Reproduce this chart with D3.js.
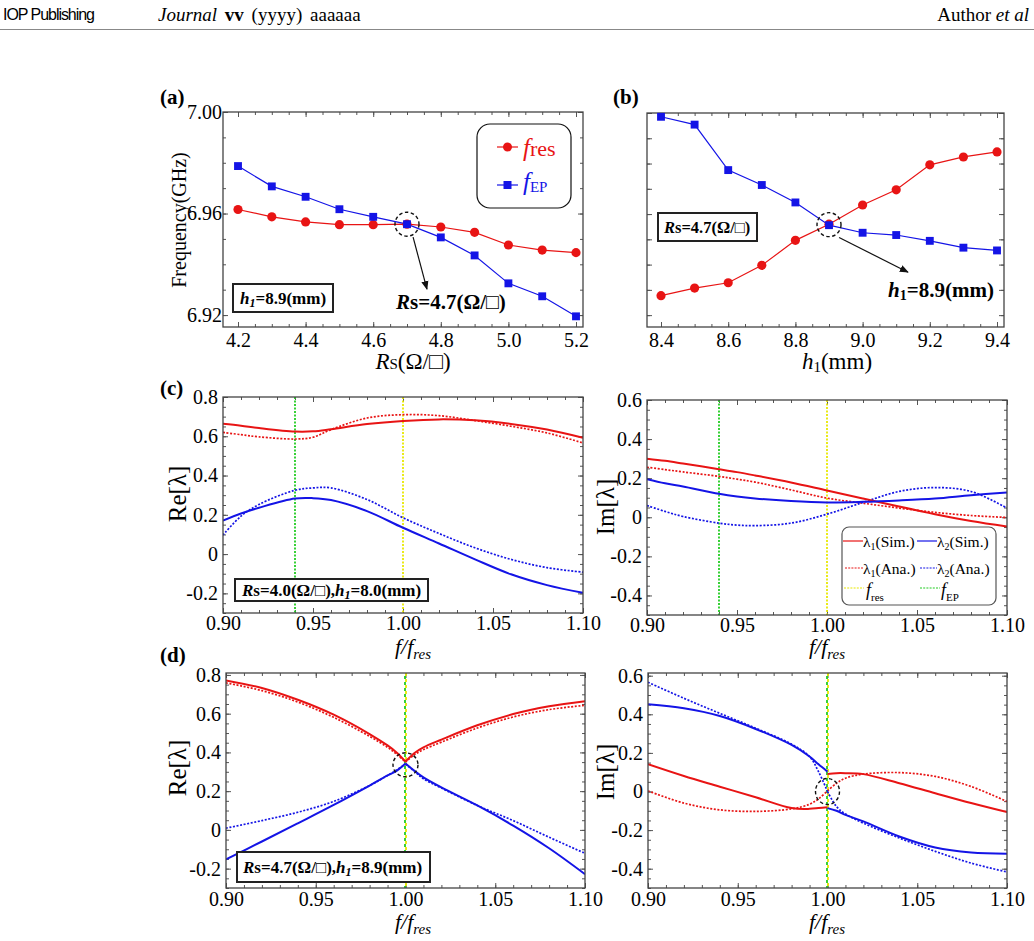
<!DOCTYPE html>
<html>
<head>
<meta charset="utf-8">
<script src="https://cdn.jsdelivr.net/npm/d3@7"></script>
<style>
  body { margin: 0; background: #fff; }
  text { font-family: "Liberation Serif", "Times New Roman", serif; }
</style>
</head>
<body>
<svg id="fig" width="1034" height="941"></svg>
<script>
// ---- (a) frequency vs Rs, h1 = 8.9 mm
const rsValues = [4.2, 4.3, 4.4, 4.5, 4.6, 4.7, 4.8, 4.9, 5.0, 5.1, 5.2];
const fresA = [6.9616, 6.9587, 6.9567, 6.9556, 6.9556, 6.9558, 6.9547, 6.9526, 6.9476, 6.9456, 6.9446];
const fepA  = [6.9787, 6.9707, 6.9666, 6.9617, 6.9587, 6.9558, 6.9506, 6.9435, 6.9325, 6.9274, 6.9195];

// ---- (b) frequency vs h1, Rs = 4.7
const h1Values = [8.4, 8.5, 8.6, 8.7, 8.8, 8.9, 9.0, 9.1, 9.2, 9.3, 9.4];
const fresB = [6.9277, 6.9307, 6.9328, 6.9397, 6.9496, 6.9560, 6.9636, 6.9696, 6.9795, 6.9826, 6.9846];
const fepB  = [6.9985, 6.9954, 6.9774, 6.9715, 6.9646, 6.9556, 6.9526, 6.9517, 6.9494, 6.9467, 6.9456];

// ---- (c) Rs = 4.0, h1 = 8.0 : eigenvalues vs f/fres
const cX = [0.90, 0.91, 0.92, 0.94, 0.95, 0.96, 0.98, 1.00, 1.02, 1.04, 1.06, 1.08, 1.10];
const cReL1Sim = [0.664, 0.654, 0.642, 0.624, 0.625, 0.636, 0.662, 0.678, 0.686, 0.681, 0.663, 0.634, 0.592];
const cReL1Ana = [0.620, 0.608, 0.597, 0.586, 0.595, 0.634, 0.693, 0.710, 0.705, 0.680, 0.651, 0.617, 0.566];
const cReL2Sim = [0.171, 0.207, 0.236, 0.283, 0.285, 0.275, 0.219, 0.134, 0.054, -0.027, -0.103, -0.158, -0.197];
const cReL2Ana = [0.097, 0.193, 0.253, 0.325, 0.337, 0.337, 0.278, 0.185, 0.105, 0.032, -0.027, -0.069, -0.092];
const cImL1Sim = [0.300, 0.289, 0.275, 0.246, 0.231, 0.214, 0.178, 0.137, 0.096, 0.055, 0.016, -0.019, -0.047];
const cImL1Ana = [0.256, 0.244, 0.232, 0.209, 0.195, 0.180, 0.140, 0.098, 0.072, 0.047, 0.025, 0.009, -0.001];
const cImL2Sim = [0.195, 0.174, 0.157, 0.120, 0.106, 0.096, 0.083, 0.076, 0.079, 0.086, 0.096, 0.113, 0.127];
const cImL2Ana = [0.060, 0.030, 0.004, -0.030, -0.040, -0.043, -0.030, 0.016, 0.076, 0.132, 0.152, 0.132, 0.047];
const cFres = 1.00, cFep = 0.94;

// ---- (d) Rs = 4.7, h1 = 8.9 : first 8 points = left branch, last 8 = right branch
const dX = [0.90, 0.92, 0.94, 0.96, 0.98, 0.99, 0.995, 1.00,
            1.00, 1.005, 1.01, 1.02, 1.04, 1.06, 1.08, 1.10];
const dReL1Sim = [0.772, 0.733, 0.672, 0.595, 0.495, 0.436, 0.400, 0.353,
                  0.353, 0.397, 0.426, 0.466, 0.540, 0.598, 0.638, 0.664];
const dReL1Ana = [0.759, 0.719, 0.660, 0.581, 0.483, 0.426, 0.391, 0.350,
                  0.350, 0.388, 0.414, 0.453, 0.526, 0.583, 0.621, 0.643];
const dReL2Sim = [-0.152, -0.060, 0.034, 0.129, 0.229, 0.281, 0.305, 0.343,
                  0.343, 0.305, 0.271, 0.219, 0.126, 0.022, -0.095, -0.229];
const dReL2Ana = [0.009, 0.048, 0.091, 0.147, 0.229, 0.281, 0.309, 0.340,
                  0.340, 0.302, 0.264, 0.216, 0.126, 0.048, -0.038, -0.121];
const dImL1Sim = [0.141, 0.080, 0.025, -0.030, -0.086, -0.090, -0.086, -0.081,
                  0.091, 0.095, 0.095, 0.090, 0.043, -0.009, -0.060, -0.107];
const dImL1Ana = [0.003, -0.060, -0.095, -0.103, -0.090, -0.066, -0.038, 0.003,
                  0.003, 0.043, 0.069, 0.090, 0.098, 0.078, 0.026, -0.052];
const dImL2Sim = [0.452, 0.431, 0.391, 0.324, 0.241, 0.181, 0.141, 0.103,
                  -0.086, -0.100, -0.121, -0.155, -0.233, -0.290, -0.316, -0.322];
const dImL2Ana = [0.566, 0.483, 0.405, 0.328, 0.245, 0.181, 0.103, 0.000,
                  0.000, -0.078, -0.117, -0.164, -0.241, -0.310, -0.371, -0.417];
const dFres = 1.00, dFep = 1.00;

// tick labels
const aTicksX = [4.2, 4.4, 4.6, 4.8, 5.0, 5.2];
const aTicksY = [6.92, 6.96, 7.00];
const bTicksX = [8.4, 8.6, 8.8, 9.0, 9.2, 9.4];
const fTicksX = [0.90, 0.95, 1.00, 1.05, 1.10];
const reTicksY = [-0.2, 0, 0.2, 0.4, 0.6, 0.8];
const imTicksY = [-0.4, -0.2, 0, 0.2, 0.4, 0.6];

const RED = "#e81414", BLUE = "#1414e6", YEL = "#e8e800", GRN = "#22cc22";
const svg = d3.select("#fig");

const steps = (a, b, s) => d3.range(Math.round((b - a) / s) + 1).map(i => +(a + i * s).toFixed(4));

function rich(parent, x, y, parts, opt = {}) {
  const t = parent.append("text").attr("x", x).attr("y", y)
    .attr("font-size", opt.size || 20)
    .attr("text-anchor", opt.anchor || "start")
    .attr("fill", opt.fill || "#000")
    .attr("font-weight", opt.weight || "normal");
  if (opt.rotate) t.attr("transform", `rotate(-90,${x},${y})`);
  parts.forEach(p => {
    const s = t.append("tspan").text(p.t);
    if (p.i) s.attr("font-style", "italic");
    if (p.size) s.attr("font-size", p.size);
    if (p.dy) s.attr("dy", p.dy);
    if (p.w) s.attr("font-weight", p.w);
  });
  return t;
}

let clipId = 0;
function makePanel(o) {
  const g = svg.append("g").attr("transform", `translate(${o.left},${o.top})`);
  const x = d3.scaleLinear().domain(o.xDomain).range([0, o.width]);
  const y = d3.scaleLinear().domain(o.yDomain).range([o.height, 0]);
  const inX = v => v >= o.xDomain[0] - 1e-9 && v <= o.xDomain[1] + 1e-9;
  const inY = v => v >= o.yDomain[0] - 1e-9 && v <= o.yDomain[1] + 1e-9;
  const xMinor = o.xMinor.filter(inX), yMinor = o.yMinor.filter(inY);

  const axes = [
    [d3.axisBottom(x).tickValues(xMinor).tickSize(-3).tickFormat(""), `translate(0,${o.height})`],
    [d3.axisTop(x).tickValues(xMinor).tickSize(-3).tickFormat(""), null],
    [d3.axisLeft(y).tickValues(yMinor).tickSize(-3).tickFormat(""), null],
    [d3.axisRight(y).tickValues(yMinor).tickSize(-3).tickFormat(""), `translate(${o.width},0)`],
    [d3.axisTop(x).tickValues(o.xTicks).tickSize(-5).tickFormat(""), null],
    [d3.axisRight(y).tickValues(o.yTicks).tickSize(-5).tickFormat(""), `translate(${o.width},0)`],
    [d3.axisBottom(x).tickValues(o.xTicks).tickSize(-5).tickPadding(o.xPad).tickFormat(o.xFmt), `translate(0,${o.height})`],
    [d3.axisLeft(y).tickValues(o.yTicks).tickSize(-5).tickPadding(o.yPad).tickFormat(o.yFmt || ""), null]
  ];
  axes.forEach(([ax, tr]) => {
    const a = g.append("g").call(ax);
    if (tr) a.attr("transform", tr);
    a.select(".domain").remove();
    a.selectAll(".tick line").attr("stroke", "#555").attr("stroke-width", 1);
    a.selectAll(".tick text").attr("font-size", 20).attr("fill", "#000");
  });
  const id = "clip" + (clipId++);
  g.append("clipPath").attr("id", id).append("rect").attr("width", o.width).attr("height", o.height);
  const plot = g.append("g").attr("clip-path", `url(#${id})`);
  g.append("rect").attr("width", o.width).attr("height", o.height)
    .attr("fill", "none").attr("stroke", "#444").attr("stroke-width", 1.3);
  return { g, plot, x, y };
}

function curve(p, xs, ys, color, dotted, from, to) {
  const pts = xs.map((v, i) => [v, ys[i]]).slice(from || 0, to || xs.length);
  const line = d3.line().x(d => p.x(d[0])).y(d => p.y(d[1])).curve(d3.curveCatmullRom.alpha(0.5));
  p.plot.append("path").attr("d", line(pts)).attr("fill", "none")
    .attr("stroke", color).attr("stroke-width", dotted ? 1.7 : 2)
    .attr("stroke-dasharray", dotted ? "2,1.6" : null);
}

function vline(p, xv, color, dash, offset, dx) {
  p.plot.append("line")
    .attr("x1", p.x(xv) + (dx || 0)).attr("x2", p.x(xv) + (dx || 0))
    .attr("y1", 0).attr("y2", p.y.range()[0])
    .attr("stroke", color).attr("stroke-width", 1.8)
    .attr("stroke-dasharray", dash).attr("stroke-dashoffset", offset || 0);
}

function dashCircle(p, xv, yv, rx, ry) {
  p.g.append("ellipse").attr("cx", p.x(xv)).attr("cy", p.y(yv)).attr("rx", rx).attr("ry", ry)
    .attr("fill", "none").attr("stroke", "#111").attr("stroke-width", 1.4).attr("stroke-dasharray", "3.5,2.5");
}

function arrow(p, x1, y1, x2, y2) {
  p.g.append("line").attr("x1", p.x(x1)).attr("y1", p.y(y1)).attr("x2", p.x(x2)).attr("y2", p.y(y2))
    .attr("stroke", "#111").attr("stroke-width", 1.2).attr("marker-end", "url(#arr)");
}

function textBox(x, y, w, h) {
  svg.append("rect").attr("x", x).attr("y", y).attr("width", w).attr("height", h)
    .attr("fill", "#fff").attr("stroke", "#222").attr("stroke-width", 2);
}

svg.append("defs").append("marker").attr("id", "arr").attr("viewBox", "0 0 10 10")
  .attr("refX", 9).attr("refY", 5).attr("markerWidth", 9).attr("markerHeight", 9)
  .attr("markerUnits", "userSpaceOnUse").attr("orient", "auto")
  .append("path").attr("d", "M0,1 L10,5 L0,9 Z").attr("fill", "#111");

// ---------- header
svg.append("text").attr("x", 3).attr("y", 20).attr("font-size", 16)
  .style("font-family", "'Liberation Sans', sans-serif").attr("textLength", 92).text("IOP Publishing");
rich(svg, 158, 21, [{ t: "Journal ", i: 1 }, { t: "vv", w: "bold" }, { t: " (yyyy) aaaaaa" }], { size: 19 })
  .attr("word-spacing", 3);
rich(svg, 1029, 21, [{ t: "Author " }, { t: "et al", i: 1 }], { size: 19, anchor: "end" });
svg.append("line").attr("x1", 0).attr("x2", 1034).attr("y1", 29.5).attr("y2", 29.5)
  .attr("stroke", "#888").attr("stroke-width", 1);

// ---------- panel (a)
const pA = makePanel({
  left: 223, top: 112, width: 360, height: 215,
  xDomain: [4.1556, 5.2207], yDomain: [6.9153, 7.0],
  xTicks: aTicksX, yTicks: aTicksY, xMinor: steps(4.15, 5.25, 0.05), yMinor: steps(6.91, 7.0, 0.01),
  xFmt: d => d.toFixed(1), yFmt: d => d.toFixed(2), xPad: 6, yPad: 1
});
function markerSeries(p, xs, ys, color, shape) {
  const pts = xs.map((v, i) => [v, ys[i]]);
  p.plot.append("path").attr("d", d3.line().x(d => p.x(d[0])).y(d => p.y(d[1]))(pts))
    .attr("fill", "none").attr("stroke", color).attr("stroke-width", 1.2);
  const sym = d3.symbol().type(shape === "circle" ? d3.symbolCircle : d3.symbolSquare).size(shape === "circle" ? 66 : 62);
  p.g.selectAll(null).data(pts).enter().append("path").attr("d", sym)
    .attr("transform", d => `translate(${p.x(d[0])},${p.y(d[1])})`).attr("fill", color);
}
markerSeries(pA, rsValues, fresA, RED, "circle");
markerSeries(pA, rsValues, fepA, BLUE, "square");
dashCircle(pA, 4.7, 6.9558, 12, 12);
arrow(pA, 4.718, 6.9507, 4.759, 6.9302);
rich(svg, 396, 309, [{ t: "R", i: 1 }, { t: "s=4.7(Ω/□)" }], { size: 21, weight: "bold" });
textBox(233, 284, 100, 28);
rich(svg, 240, 304, [{ t: "h", i: 1 }, { t: "1", i: 1, size: 12, dy: 3 }, { t: "=8.9(mm)", dy: -3 }], { size: 17, weight: "bold" });
// legend (a)
svg.append("rect").attr("x", 477).attr("y", 124).attr("width", 94).attr("height", 84).attr("rx", 13)
  .attr("fill", "#fff").attr("stroke", "#111").attr("stroke-width", 1.2);
svg.append("line").attr("x1", 497).attr("x2", 518).attr("y1", 147).attr("y2", 147).attr("stroke", RED).attr("stroke-width", 1.2);
svg.append("circle").attr("cx", 507.5).attr("cy", 147).attr("r", 4.5).attr("fill", RED);
rich(svg, 523, 156, [{ t: "f", i: 1, size: 25 }, { t: "res" }], { size: 22, fill: RED });
svg.append("line").attr("x1", 497).attr("x2", 518).attr("y1", 185).attr("y2", 185).attr("stroke", BLUE).attr("stroke-width", 1.2);
svg.append("rect").attr("x", 503.5).attr("y", 181).attr("width", 8).attr("height", 8).attr("fill", BLUE);
rich(svg, 523, 190, [{ t: "f", i: 1, size: 25 }, { t: "EP", size: 15, dy: 2 }], { size: 22, fill: BLUE });
// labels (a)
svg.append("text").attr("x", 160).attr("y", 104).attr("font-size", 21).attr("font-weight", "bold").text("(a)");
rich(svg, 186, 220, [{ t: "Frequency(GHz)" }], { size: 20, anchor: "middle", rotate: true });
rich(svg, 413, 369, [{ t: "R", i: 1, size: 23 }, { t: "S", size: 15 }, { t: "(Ω/□)" }], { size: 23, anchor: "middle" });

// ---------- panel (b)
const pB = makePanel({
  left: 647, top: 113, width: 357, height: 214,
  xDomain: [8.3583, 9.4208], yDomain: [6.9153, 7.0],
  xTicks: bTicksX, yTicks: steps(6.92, 7.0, 0.01), xMinor: steps(8.35, 9.45, 0.05), yMinor: steps(6.92, 7.0, 0.01),
  xFmt: d => d.toFixed(1), yFmt: "", xPad: 6, yPad: 1
});
markerSeries(pB, h1Values, fresB, RED, "circle");
markerSeries(pB, h1Values, fepB, BLUE, "square");
dashCircle(pB, 8.9, 6.9558, 12, 12);
arrow(pB, 8.93, 6.9507, 9.135, 6.937);
rich(svg, 888, 297, [{ t: "h", i: 1 }, { t: "1", size: 14, dy: 3 }, { t: "=8.9(mm)", dy: -3 }], { size: 21, weight: "bold" });
textBox(658, 213, 99, 28);
rich(svg, 664, 233, [{ t: "R", i: 1 }, { t: "s=4.7(Ω/□)" }], { size: 16.5, weight: "bold" });
svg.append("text").attr("x", 613).attr("y", 104).attr("font-size", 21).attr("font-weight", "bold").text("(b)");
rich(svg, 837, 369, [{ t: "h", i: 1 }, { t: "1", size: 15, dy: 3 }, { t: "(mm)", dy: -3 }], { size: 23, anchor: "middle" });

// ---------- panels (c), (d)
const fmt1 = d => Math.abs(d) < 1e-9 ? "0" : d.toFixed(1);
const fmt2 = d => d.toFixed(2);
function lambdaPanel(left, top, width, height, yDomain, yTicks, xPad) {
  return makePanel({
    left, top, width, height, xDomain: [0.9, 1.1], yDomain,
    xTicks: fTicksX, yTicks, xMinor: steps(0.9, 1.1, 0.01), yMinor: steps(-0.5, 0.85, 0.05),
    xFmt: fmt2, yFmt: fmt1, xPad, yPad: 5
  });
}
function xLabel(cx, base) {
  rich(svg, cx, base, [{ t: "f/f", i: 1 }, { t: "res", i: 1, size: 15, dy: 5 }], { size: 22, anchor: "middle" });
}

const pCR = lambdaPanel(223, 397, 360, 216, [-0.3, 0.8], reTicksY, 3);
vline(pCR, cFep, GRN, "2,1.5");
vline(pCR, cFres, YEL, "2,1.5");
curve(pCR, cX, cReL1Ana, RED, true);
curve(pCR, cX, cReL2Ana, BLUE, true);
curve(pCR, cX, cReL1Sim, RED, false);
curve(pCR, cX, cReL2Sim, BLUE, false);
textBox(235, 579, 193, 22);
rich(svg, 242, 596, [{ t: "R", i: 1 }, { t: "s=4.0(Ω/□)," }, { t: "h", i: 1 }, { t: "1", i: 1, size: 12, dy: 3 }, { t: "=8.0(mm)", dy: -3 }], { size: 17, weight: "bold" });
svg.append("text").attr("x", 160).attr("y", 395).attr("font-size", 21).attr("font-weight", "bold").text("(c)");
rich(svg, 186, 494, [{ t: "Re[λ]" }], { size: 25, anchor: "middle", rotate: true });
xLabel(413, 654);

const pCI = lambdaPanel(647, 400, 360, 215, [-0.5, 0.6], imTicksY, 3);
vline(pCI, cFep, GRN, "2,1.5");
vline(pCI, cFres, YEL, "2,1.5");
curve(pCI, cX, cImL1Ana, RED, true);
curve(pCI, cX, cImL2Ana, BLUE, true);
curve(pCI, cX, cImL1Sim, RED, false);
curve(pCI, cX, cImL2Sim, BLUE, false);
rich(svg, 614, 507, [{ t: "Im[λ]" }], { size: 25, anchor: "middle", rotate: true });
xLabel(827, 654);
// legend (c)
svg.append("rect").attr("x", 842).attr("y", 527).attr("width", 154).attr("height", 78).attr("rx", 7)
  .attr("fill", "#fff").attr("stroke", "#555").attr("stroke-width", 1.2);
const legRows = [
  [RED, null, "λ", "1", "(Sim.)", 843, 541], [BLUE, null, "λ", "2", "(Sim.)", 917, 541],
  [RED, "2,1.2", "λ", "1", "(Ana.)", 845, 568], [BLUE, "2,1.2", "λ", "2", "(Ana.)", 920, 568]
];
legRows.forEach(([c, dash, a, sub, b, x0, yy]) => {
  svg.append("line").attr("x1", x0).attr("x2", x0 < 900 ? 863 : 937).attr("y1", yy).attr("y2", yy)
    .attr("stroke", c).attr("stroke-width", 1.2).attr("stroke-dasharray", dash);
  rich(svg, x0 < 900 ? 863 : 937, yy + 6, [{ t: a }, { t: sub, size: 10, dy: 3 }, { t: b, dy: -3 }], { size: 15.5 });
});
svg.append("line").attr("x1", 844).attr("x2", 864).attr("y1", 588).attr("y2", 588)
  .attr("stroke", YEL).attr("stroke-width", 1.2).attr("stroke-dasharray", "2,1.2");
rich(svg, 866, 596, [{ t: "f", i: 1 }, { t: "res", size: 11, dy: 5 }], { size: 18 });
svg.append("line").attr("x1", 920).attr("x2", 940).attr("y1", 588).attr("y2", 588)
  .attr("stroke", GRN).attr("stroke-width", 1.2).attr("stroke-dasharray", "2,1.2");
rich(svg, 941, 596, [{ t: "f", i: 1 }, { t: "EP", size: 11, dy: 5 }], { size: 18 });

const pDR = lambdaPanel(226, 673, 359, 215, [-0.3, 0.81], reTicksY, 4);
vline(pDR, dFres, YEL, "3,3", 0, 0.5);
vline(pDR, dFep, GRN, "3,3", 3, -0.5);
[[dReL1Ana, RED, true], [dReL2Ana, BLUE, true], [dReL1Sim, RED, false], [dReL2Sim, BLUE, false]].forEach(([s, c, d]) => {
  curve(pDR, dX, s, c, d, 0, 8);
  curve(pDR, dX, s, c, d, 8, 16);
});
dashCircle(pDR, 1.0, 0.336, 12.5, 12);
textBox(237, 852, 193, 30);
rich(svg, 243, 873, [{ t: "R", i: 1 }, { t: "s=4.7(Ω/□)," }, { t: "h", i: 1 }, { t: "1", i: 1, size: 12, dy: 3 }, { t: "=8.9(mm)", dy: -3 }], { size: 17, weight: "bold" });
svg.append("text").attr("x", 160).attr("y", 662).attr("font-size", 21).attr("font-weight", "bold").text("(d)");
rich(svg, 186, 768, [{ t: "Re[λ]" }], { size: 25, anchor: "middle", rotate: true });
xLabel(413, 929);

const pDI = lambdaPanel(648, 673, 359, 215, [-0.5, 0.614], imTicksY, 4);
vline(pDI, dFres, YEL, "3,3", 0, 0.5);
vline(pDI, dFep, GRN, "3,3", 3, -0.5);
[[dImL1Ana, RED, true], [dImL2Ana, BLUE, true], [dImL1Sim, RED, false], [dImL2Sim, BLUE, false]].forEach(([s, c, d]) => {
  curve(pDI, dX, s, c, d, 0, 8);
  curve(pDI, dX, s, c, d, 8, 16);
});
dashCircle(pDI, 1.0, 0.0, 12, 13);
rich(svg, 614, 772, [{ t: "Im[λ]" }], { size: 25, anchor: "middle", rotate: true });
xLabel(827, 929);
</script>
</body>
</html>
